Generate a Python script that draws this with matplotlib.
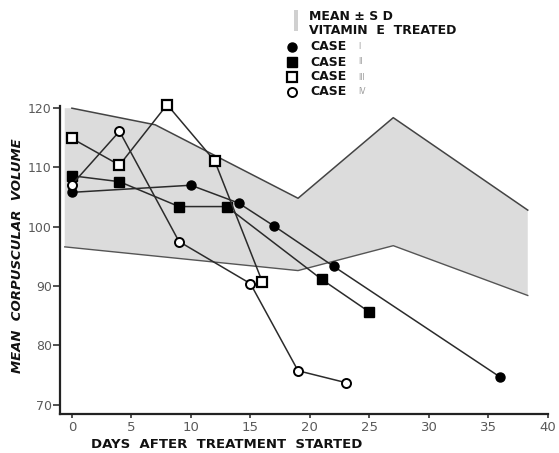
import numpy as np
import matplotlib.pyplot as plt
from matplotlib.lines import Line2D
from matplotlib.patches import Rectangle

# mean +/- SD band for the vitamin E treated group
band_upper_days = [-0.6, 0, 7, 19, 27, 38.3]
band_upper_vals = [120.0, 120.0, 117.2, 104.8, 118.4, 102.8]
band_lower_days = [-0.6, 19, 27, 38.3]
band_lower_vals = [96.6, 92.6, 96.8, 88.4]

# individual cases
case1_days = [0, 10, 14, 17, 22, 36]
case1_mcv = [105.8, 107.0, 104.0, 100.1, 93.3, 74.6]
case2_days = [0, 4, 9, 13, 21, 25]
case2_mcv = [108.6, 107.6, 103.4, 103.4, 91.1, 85.6]
case3_days = [0, 4, 8, 12, 16]
case3_mcv = [114.9, 110.4, 120.6, 111.1, 90.7]
case4_days = [0, 4, 9, 15, 19, 23]
case4_mcv = [107.1, 116.1, 97.5, 90.4, 75.7, 73.7]

case_names = ['I', 'II', 'III', 'IV']
x_ticks = [0, 5, 10, 15, 20, 25, 30, 35, 40]
y_ticks = [70, 80, 90, 100, 110, 120]

ink = '#2b2b2b'
tick_gray = '#5a5a5a'

fig = plt.figure(figsize=(5.59, 4.53), dpi=100)
ax = fig.add_axes([0.1073, 0.0861, 0.873, 0.679])

# shaded band
poly_x = np.concatenate([band_upper_days, band_lower_days[::-1]])
poly_y = np.concatenate([band_upper_vals, band_lower_vals[::-1]])
ax.fill(poly_x, poly_y, facecolor='#dcdcdc', edgecolor='none', zorder=1)
ax.plot(band_upper_days[1:], band_upper_vals[1:], color='#444444', lw=1.1, zorder=2)
ax.plot(band_lower_days, band_lower_vals, color='#555555', lw=1.0, zorder=2)

styles = [
    dict(marker='o', mfc='black', mec='black', ms=6.5),
    dict(marker='s', mfc='black', mec='black', ms=6.5),
    dict(marker='s', mfc='white', mec='black', ms=6.5, mew=1.6),
    dict(marker='o', mfc='white', mec='black', ms=6.5, mew=1.4),
]
series = [(case1_days, case1_mcv), (case2_days, case2_mcv),
          (case3_days, case3_mcv), (case4_days, case4_mcv)]
for (d, v), st in zip(series, styles):
    ax.plot(d, v, color=ink, lw=1.1, zorder=3, clip_on=False, **st)

ax.set_xlim(-1.0, 40)
ax.set_ylim(68.4, 120.3)
ax.set_xticks(x_ticks)
ax.set_yticks(y_ticks)
ax.spines['top'].set_visible(False)
ax.spines['right'].set_visible(False)
for s in ('left', 'bottom'):
    ax.spines[s].set_linewidth(1.6)
    ax.spines[s].set_color('#222222')
ax.tick_params(axis='y', direction='out', length=5, width=1.2, pad=1,
               labelsize=9, labelcolor=tick_gray, color='#333333')
ax.tick_params(axis='x', direction='out', length=3, width=1.2, pad=2,
               labelsize=9.5, labelcolor=tick_gray, color='#333333')

fig.text(227 / 559, 1 - 444 / 453, 'DAYS  AFTER  TREATMENT  STARTED',
         ha='center', va='center', fontsize=9.5, fontweight='bold',
         color='#111111')
fig.text(18 / 559, 1 - 256 / 453, 'MEAN  CORPUSCULAR  VOLUME', rotation=90,
         ha='center', va='center', fontsize=9.5, style='italic',
         fontweight='bold', color='#111111')

# key in the upper right
W, H = 559.0, 453.0
fig.add_artist(Rectangle((294 / W, 1 - 31 / H), 4 / W, 21 / H,
                         transform=fig.transFigure, facecolor='#d0d0d0',
                         edgecolor='none'))
fig.text(309 / W, 1 - 16 / H, 'MEAN \u00b1 S D', ha='left', va='center',
         fontsize=9, fontweight='bold', color='#111111')
fig.text(309 / W, 1 - 30 / H, 'VITAMIN  E  TREATED', ha='left', va='center',
         fontsize=9, fontweight='bold', color='#111111')
key_rows = [46.5, 62, 77, 91.5]
for row, st, name in zip(key_rows, styles, case_names):
    fig.add_artist(Line2D([292 / W], [1 - row / H], transform=fig.transFigure,
                          linestyle='none', **st))
    fig.text(310 / W, 1 - row / H, 'CASE', ha='left', va='center',
             fontsize=9, fontweight='bold', color='#111111')
    fig.text(358 / W, 1 - row / H, name, ha='left', va='center',
             fontsize=5.5, color='#999999')

fig.savefig('out.png', dpi=100)
